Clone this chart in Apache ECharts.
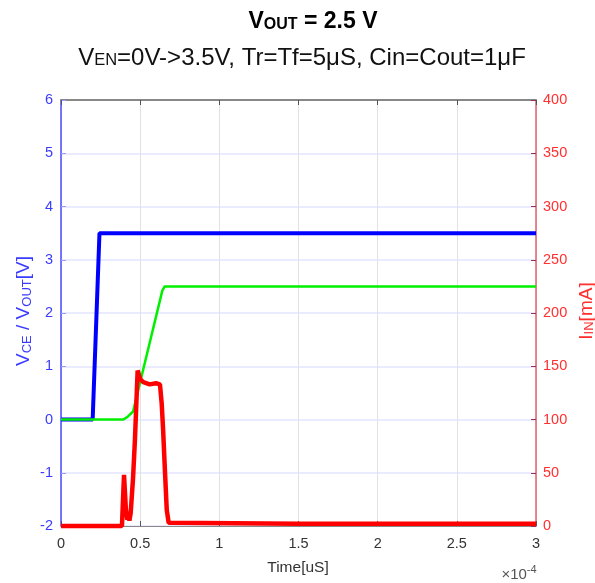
<!DOCTYPE html>
<html><head><meta charset="utf-8">
<script src="https://cdn.jsdelivr.net/npm/echarts@6/dist/echarts.min.js"></script>
<style>html,body{margin:0;padding:0;background:#fff}#c{width:595px;height:583px}</style>
</head><body><div id="c"></div>
<script>
// time in units of 1e-4 s
const vceTime = [0, 0.2, 0.243, 3];
const vceValue = [0, 0, 3.5, 3.5];
const voutTime = [0, 0.394, 0.42, 0.455, 0.64, 0.655, 3];
const voutValue = [0, 0, 0.05, 0.15, 2.42, 2.5, 2.5];
const iinTime = [0, 0.385, 0.398, 0.41, 0.419, 0.425, 0.432, 0.44, 0.455, 0.467, 0.484, 0.5, 0.52, 0.56, 0.6, 0.625, 0.636, 0.645, 0.657, 0.668, 0.68, 1.5, 3];
const iinValue = [0, 0, 48, 15, 6, 12, 5, 12, 45, 81, 146, 138, 135, 133, 134, 133, 115, 90, 50, 15, 3, 2, 2];
const xTicks = ['0', '0.5', '1', '1.5', '2', '2.5', '3'];

const zip = (a, b) => a.map((t, i) => [t, b[i]]);
const FONT = 'Liberation Sans, Arial, sans-serif';
const chart = echarts.init(document.getElementById('c'));
chart.setOption({
  animation: false,
  textStyle: {fontFamily: FONT},
  grid: {left: 61, right: 59, top: 100, bottom: 57},
  xAxis: [{
    type: 'value', min: 0, max: 3, interval: 0.5,
    axisLine: {show: true, onZero: false, lineStyle: {color: '#888'}},
    axisTick: {inside: true, length: 5, lineStyle: {color: '#555'}},
    axisLabel: {color: '#333', fontSize: 14.5, margin: 10, formatter: v => xTicks[Math.round(v * 2)]},
    splitLine: {show: true, lineStyle: {color: '#e2e2e2', width: 1}}
  }, {
    type: 'value', min: 0, max: 3, interval: 0.5, position: 'top',
    axisLine: {show: true, onZero: false, lineStyle: {color: '#888', width: 2}},
    axisTick: {inside: true, length: 5, lineStyle: {color: '#555'}},
    axisLabel: {show: false}, splitLine: {show: false}
  }],
  yAxis: [{
    type: 'value', min: -2, max: 6, interval: 1, position: 'left',
    axisLine: {show: true, onZero: false, lineStyle: {color: '#4a4aff', width: 1.5}},
    axisTick: {show: true, inside: true, length: 5, lineStyle: {color: '#9a9aff'}},
    axisLabel: {color: '#3b3bff', fontSize: 14.5, margin: 8},
    splitLine: {show: true, lineStyle: {color: '#e4e4ff', width: 1.5}}
  }, {
    type: 'value', min: 0, max: 400, interval: 50, position: 'right',
    axisLine: {show: true, onZero: false, lineStyle: {color: '#e0606a', width: 1.5}},
    axisTick: {show: true, inside: true, length: 5, lineStyle: {color: '#993355'}},
    axisLabel: {color: '#ff3030', fontSize: 14.5, margin: 7},
    splitLine: {show: false}
  }],
  series: [{
    type: 'line', name: 'VOUT', data: zip(voutTime, voutValue), yAxisIndex: 0,
    showSymbol: false, clip: false, lineStyle: {color: '#00f000', width: 2.5}, z: 3
  }, {
    type: 'line', name: 'VCE', data: zip(vceTime, vceValue), yAxisIndex: 0,
    showSymbol: false, clip: false, lineStyle: {color: '#0000ff', width: 4}, z: 2
  }, {
    type: 'line', name: 'IIN', data: zip(iinTime, iinValue), yAxisIndex: 1,
    showSymbol: false, clip: false, lineStyle: {color: '#ff0000', width: 4.5}, z: 4
  }],
  graphic: [{
    type: 'text', x: 313, y: 22,
    style: {
      text: '{v|V}{s|OUT}{v| = 2.5 V}', align: 'center', verticalAlign: 'middle',
      rich: {
        v: {fontSize: 23, fontWeight: 'bold', fontFamily: FONT, fill: '#000', verticalAlign: 'bottom'},
        s: {fontSize: 16, fontWeight: 'bold', fontFamily: FONT, fill: '#000', verticalAlign: 'bottom', padding: [0, 0, 1, 0]}
      }
    }
  }, {
    type: 'text', x: 302, y: 58,
    style: {
      text: '{v|V}{s|EN}{v|=0V->3.5V, Tr=Tf=5μS, Cin=Cout=1μF}', align: 'center', verticalAlign: 'middle',
      rich: {
        v: {fontSize: 24, fontFamily: FONT, fill: '#111', verticalAlign: 'bottom'},
        s: {fontSize: 16.5, fontFamily: FONT, fill: '#111', verticalAlign: 'bottom', padding: [0, 0, 1, 0]}
      }
    }
  }, {
    type: 'text', x: 24, y: 311, rotation: Math.PI / 2,
    style: {
      text: '{v|V}{s|CE}{v| / V}{s|OUT}{v|[V]}', align: 'center', verticalAlign: 'middle',
      rich: {
        v: {fontSize: 19, fontFamily: FONT, fill: '#3b3bff', verticalAlign: 'top', lineHeight: 20},
        s: {fontSize: 13, fontFamily: FONT, fill: '#3b3bff', verticalAlign: 'top', lineHeight: 20, padding: [7, 0, 0, 0]}
      }
    }
  }, {
    type: 'text', x: 587, y: 311, rotation: Math.PI / 2,
    style: {
      text: '{v|I}{s|IN}{v|[mA]}', align: 'center', verticalAlign: 'middle',
      rich: {
        v: {fontSize: 19, fontFamily: FONT, fill: '#ff3030', verticalAlign: 'top', lineHeight: 20},
        s: {fontSize: 13, fontFamily: FONT, fill: '#ff3030', verticalAlign: 'top', lineHeight: 20, padding: [6, 0, 0, 0]}
      }
    }
  }, {
    type: 'text', x: 298, y: 568,
    style: {text: 'Time[uS]', align: 'center', verticalAlign: 'middle', fontSize: 15.5, fontFamily: FONT, fill: '#333'}
  }, {
    type: 'text', x: 519, y: 573,
    style: {
      text: '{v|×10}{s|-4}', align: 'center', verticalAlign: 'middle',
      rich: {
        v: {fontSize: 15, fontFamily: FONT, fill: '#555', verticalAlign: 'bottom', lineHeight: 18},
        s: {fontSize: 11, fontFamily: FONT, fill: '#555', verticalAlign: 'top', lineHeight: 18, padding: [0, 0, 8, 0]}
      }
    }
  }]
});
</script></body></html>
